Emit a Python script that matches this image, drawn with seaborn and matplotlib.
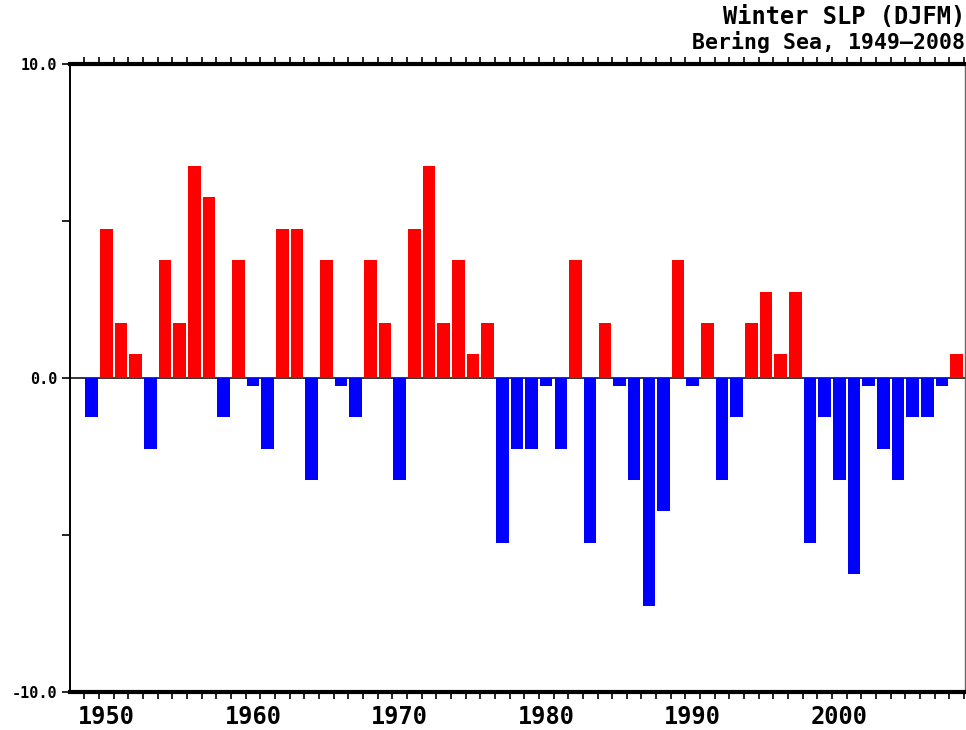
import numpy as np
import pandas as pd
import matplotlib
matplotlib.use("Agg")
import matplotlib.pyplot as plt
from matplotlib.ticker import FixedLocator, FixedFormatter
import seaborn as sns

# Winter (DJFM) sea-level-pressure anomaly, Bering Sea
years = list(range(1949, 2009))
slp = [
    -1.25, 4.75, 1.75, 0.75, -2.25, 3.75, 1.75, 6.75, 5.75, -1.25,   # 1949-1958
     3.75, -0.25, -2.25, 4.75, 4.75, -3.25, 3.75, -0.25, -1.25, 3.75,  # 1959-1968
     1.75, -3.25, 4.75, 6.75, 1.75, 3.75, 0.75, 1.75, -5.25, -2.25,   # 1969-1978
    -2.25, -0.25, -2.25, 3.75, -5.25, 1.75, -0.25, -3.25, -7.25, -4.25,  # 1979-1988
     3.75, -0.25, 1.75, -3.25, -1.25, 1.75, 2.75, 0.75, 2.75, -5.25,  # 1989-1998
    -1.25, -3.25, -6.25, -0.25, -2.25, -3.25, -1.25, -1.25, -0.25, 0.75,  # 1999-2008
]
decade_ticks = [1950, 1960, 1970, 1980, 1990, 2000]
y_ticks = [-10, -5, 0, 5, 10]
y_tick_labels = ["-10.0", "", "0.0", "", "10.0"]
title_main = "Winter SLP (DJFM)"
title_sub = "Bering Sea, 1949\u20132008"

df = pd.DataFrame({"year": years, "slp": slp})
df["sign"] = np.where(df["slp"] >= 0, "pos", "neg")

sns.set_style("white")
plt.rcParams["font.family"] = ["DejaVu Sans Mono", "DejaVu Sans"]
plt.rcParams["text.color"] = "black"
plt.rcParams["xtick.labelcolor"] = "black"
plt.rcParams["ytick.labelcolor"] = "black"

fig = plt.figure(figsize=(9.66, 7.30), dpi=100)
ax = fig.add_axes([70 / 966, 38 / 730, (965.5 - 70) / 966, (692 - 64) / 730])

ax.axhline(0, color="black", lw=1.1, zorder=1)
sns.barplot(
    data=df, x="year", y="slp", hue="sign",
    palette={"pos": "#ff0000", "neg": "#0000ff"},
    dodge=False, native_scale=True, width=0.86, saturation=1,
    legend=False, linewidth=0, ax=ax, zorder=2,
)

ax.set_xlim(1947.52, 2008.6)
ax.set_ylim(-10, 10)
ax.set_xlabel("")
ax.set_ylabel("")

# x axis: decade labels, a tick at every year boundary on top and bottom
ax.xaxis.set_major_locator(FixedLocator(decade_ticks))
ax.xaxis.set_major_formatter(FixedFormatter([str(y) for y in decade_ticks]))
ax.xaxis.set_minor_locator(FixedLocator([y - 0.5 for y in years] + [2008.5]))
ax.tick_params(axis="x", which="major", length=0, pad=9, labelsize=17,
               labelcolor="black")
ax.tick_params(axis="x", which="minor", direction="out", length=5, width=1.2,
               color="black", top=True, bottom=True)
for lab in ax.get_xticklabels():
    lab.set_fontweight("bold")

# y axis
ax.yaxis.set_major_locator(FixedLocator(y_ticks))
ax.yaxis.set_major_formatter(FixedFormatter(y_tick_labels))
ax.tick_params(axis="y", which="major", direction="out", length=6, width=1.2,
               color="black", pad=3, labelsize=11, left=True, labelcolor="black")
for lab in ax.get_yticklabels():
    lab.set_fontweight("bold")

for side, lw, col in [("top", 3.0, "black"), ("bottom", 3.0, "black"),
                      ("left", 1.4, "black"), ("right", 1.0, "#666666")]:
    ax.spines[side].set_visible(True)
    ax.spines[side].set_linewidth(lw)
    ax.spines[side].set_color(col)

fig.text(965 / 966, 1 - 17 / 730, title_main, ha="right", va="center",
         fontsize=17, fontweight="bold", color="black")
fig.text(965 / 966, 1 - 42 / 730, title_sub, ha="right", va="center",
         fontsize=15.5, fontweight="bold", color="black")

fig.savefig("out.png", dpi=100, facecolor="white")
